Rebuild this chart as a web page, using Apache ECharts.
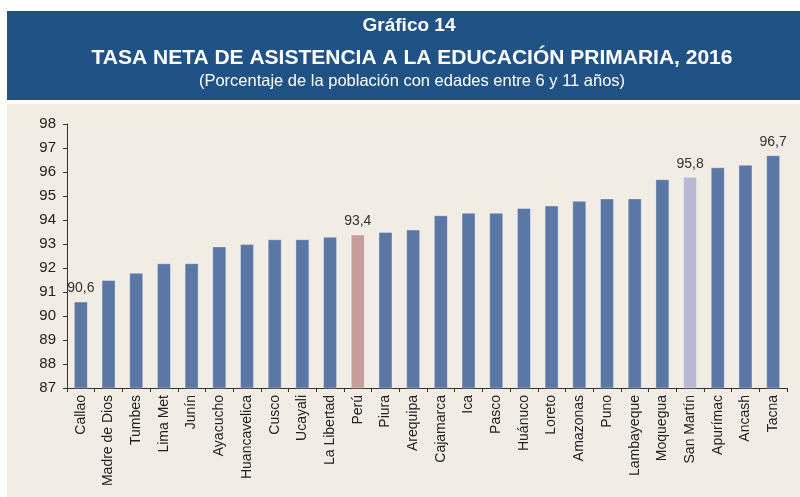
<!DOCTYPE html>
<html>
<head>
<meta charset="utf-8">
<script src="https://cdn.jsdelivr.net/npm/echarts@6/dist/echarts.min.js"></script>
<style>
  html, body { margin: 0; padding: 0; background: #fff; }
  #main { width: 800px; height: 497px; }
</style>
</head>
<body>
<div id="main"></div>
<script>
// regiones ordenadas de menor a mayor
var regiones = ['Callao', 'Madre de Dios', 'Tumbes', 'Lima Met', 'Junín', 'Ayacucho',
  'Huancavelica', 'Cusco', 'Ucayali', 'La Libertad', 'Perú', 'Piura', 'Arequipa',
  'Cajamarca', 'Ica', 'Pasco', 'Huánuco', 'Loreto', 'Amazonas', 'Puno', 'Lambayeque',
  'Moquegua', 'San Martín', 'Apurímac', 'Ancash', 'Tacna'];
var tasas = [90.6, 91.5, 91.8, 92.2, 92.2, 92.9, 93.0, 93.2, 93.2, 93.3, 93.4, 93.5, 93.6,
  94.2, 94.3, 94.3, 94.5, 94.6, 94.8, 94.9, 94.9, 95.7, 95.8, 96.2, 96.3, 96.7];
// solo algunas barras llevan etiqueta
var conEtiqueta = ['Callao', 'Perú', 'San Martín', 'Tacna'];
var colorBase = '#5b77a5';
var colorDestacado = {'Perú': '#c49e9a', 'San Martín': '#b7b8d3'};

var chart = echarts.init(document.getElementById('main'), null, {renderer: 'canvas'});

var barras = regiones.map(function(r, i) {
  var c = colorDestacado[r] || colorBase;
  return {
    value: tasas[i],
    itemStyle: {color: c},
    label: {show: conEtiqueta.indexOf(r) >= 0}
  };
});

var option = {
  backgroundColor: '#ffffff',
  animation: false,
  textStyle: {fontFamily: 'Liberation Sans, Arial, sans-serif'},
  graphic: [
    // franja azul del título
    {type: 'rect', z: -10, shape: {x: 7, y: 11, width: 793, height: 89}, style: {fill: '#205286'}},
    // panel beige
    {type: 'rect', z: -10, shape: {x: 7, y: 104, width: 793, height: 393}, style: {fill: '#f1ece4'}}
  ],
  title: [{
    text: 'Gráfico 14',
    left: 404, top: 11, textAlign: 'center',
    textStyle: {color: '#fff', fontSize: 19, fontWeight: 'bold', fontFamily: 'Liberation Sans, Arial'}
  }, {
    text: 'TASA NETA DE ASISTENCIA A LA EDUCACIÓN PRIMARIA, 2016',
    left: 407, top: 43, textAlign: 'center',
    textStyle: {color: '#fff', fontSize: 21, fontWeight: 'bold', fontFamily: 'Liberation Sans, Arial'}
  }, {
    text: '(Porcentaje de la población con edades entre 6 y 11 años)',
    left: 407, top: 68, textAlign: 'center',
    textStyle: {color: '#fff', fontSize: 16.5, fontWeight: 'normal', fontFamily: 'Liberation Sans, Arial'}
  }],
  grid: {left: 67, right: 13, top: 124, bottom: 109, containLabel: false},
  xAxis: {
    type: 'category',
    data: regiones,
    axisLine: {lineStyle: {color: '#333', width: 1}},
    axisTick: {show: true, length: 4, lineStyle: {color: '#333'}},
    axisLabel: {rotate: 90, margin: 7, color: '#222', fontSize: 14, interval: 0}
  },
  yAxis: {
    type: 'value',
    min: 87, max: 98, interval: 1,
    splitLine: {show: false},
    axisLine: {show: true, lineStyle: {color: '#333', width: 1}},
    axisTick: {show: true, length: 4, lineStyle: {color: '#333'}},
    axisLabel: {color: '#222', fontSize: 15, margin: 11}
  },
  series: [{
    type: 'bar',
    data: barras,
    barWidth: 14,
    itemStyle: {borderColor: 'rgba(255,255,255,0.35)', borderWidth: 1},
    label: {
      position: 'top', distance: 6, color: '#333', fontSize: 14,
      formatter: function(p) { return p.value.toFixed(1).replace('.', ','); }
    }
  }]
};

chart.setOption(option);
</script>
</body>
</html>
